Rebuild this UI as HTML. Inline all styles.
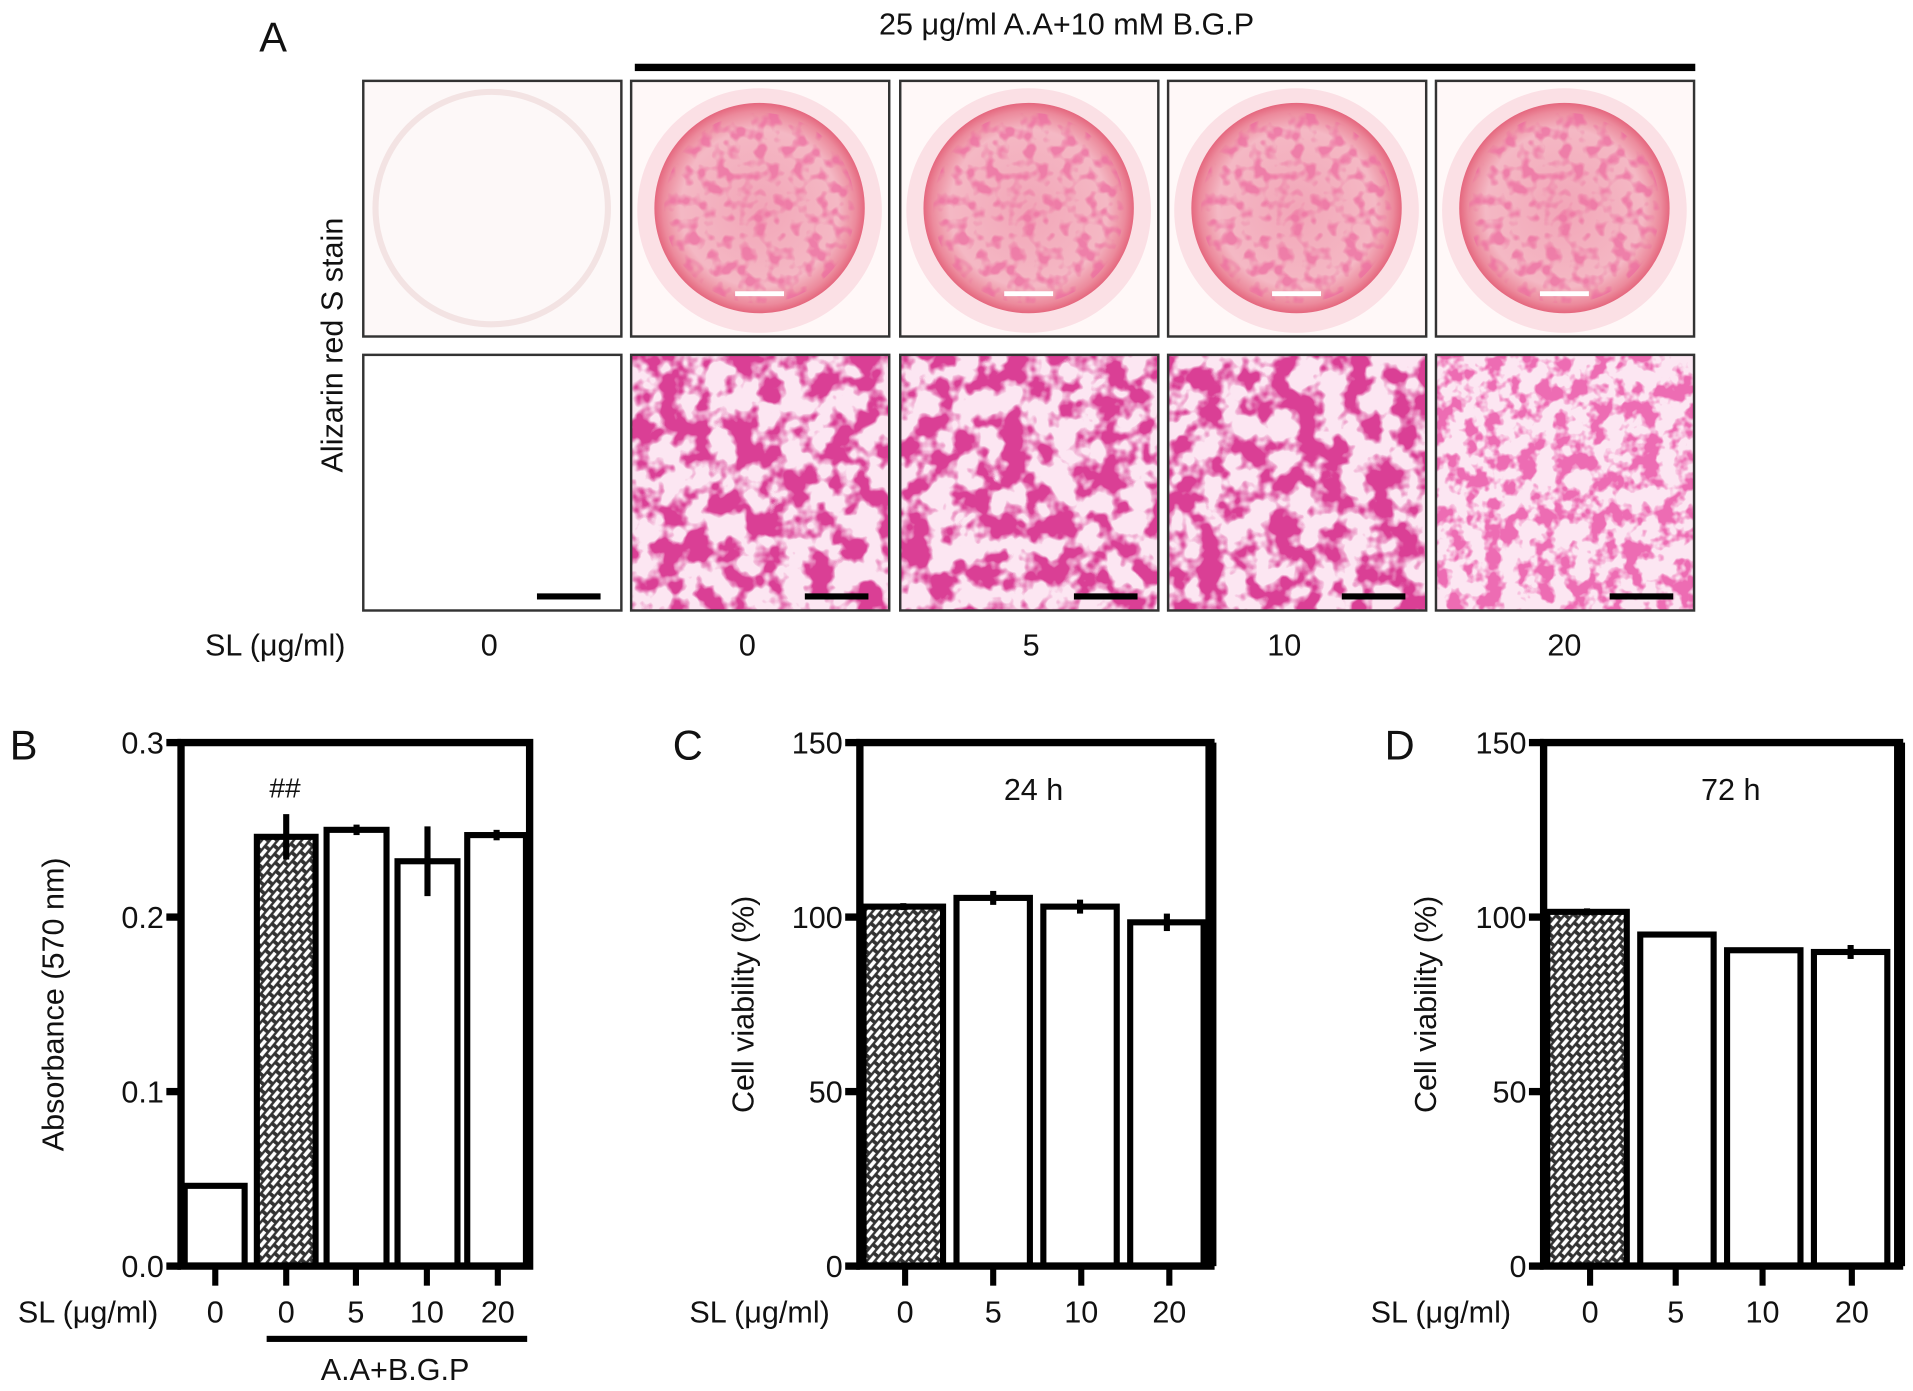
<!DOCTYPE html>
<html><head><meta charset="utf-8"><style>
html,body{margin:0;padding:0;background:#fff}
svg{display:block}
text{font-family:"Liberation Sans",sans-serif;fill:#111}
</style></head><body>
<svg id="fig" width="1913" height="1391" viewBox="0 0 1564 1137" xmlns="http://www.w3.org/2000/svg">
<defs>
<pattern id="hatch" width="10" height="10" patternUnits="userSpaceOnUse" patternTransform="rotate(-50)">
<rect width="10" height="10" fill="#333"/>
<rect x="1" y="1.5" width="7" height="3" fill="#fff"/>
<rect x="6" y="6.5" width="7" height="3" fill="#fff"/>
<rect x="-4" y="6.5" width="7" height="3" fill="#fff"/>
</pattern>
<filter id="cells" x="0" y="0" width="100%" height="100%">
<feTurbulence type="fractalNoise" baseFrequency="0.05" numOctaves="3" seed="4"/>
<feColorMatrix type="matrix" values="0 0 0 0 0.70  0 0 0 0 0.05  0 0 0 0 0.30  6 0 0 0 -2.6"/>
</filter>
<filter id="cells2" x="0" y="0" width="100%" height="100%">
<feTurbulence type="fractalNoise" baseFrequency="0.07" numOctaves="3" seed="9"/>
<feColorMatrix type="matrix" values="0 0 0 0 0.85  0 0 0 0 0.15  0 0 0 0 0.45  6 0 0 0 -2.7"/>
</filter>
<filter id="wellTex" x="0" y="0" width="100%" height="100%">
<feTurbulence type="fractalNoise" baseFrequency="0.09" numOctaves="2" seed="2"/>
<feColorMatrix type="matrix" values="0 0 0 0 0.85  0 0 0 0 0.15  0 0 0 0 0.35  5 0 0 0 -2.4"/>
</filter>
<radialGradient id="well" cx="50%" cy="50%" r="50%">
<stop offset="0" stop-color="#f2a6b8"/><stop offset="0.75" stop-color="#f4b8c4"/><stop offset="0.92" stop-color="#ec8a9c"/><stop offset="1" stop-color="#e5677e"/>
</radialGradient>
<clipPath id="wc"><circle cx="105" cy="100" r="78"/></clipPath>
</defs>
<g id="panelA"></g>
<g id="panelB"></g>
<g id="panelC"></g>
<g id="panelD"></g>
</svg>
<script>
const NS="http://www.w3.org/2000/svg";
// Panel B data
const bCats=["0","0","5","10","20"];
const bVals=[0.046,0.246,0.250,0.232,0.247];
const bErr=[0.0,0.013,0.003,0.020,0.003];
const bTicks=[0.0,0.1,0.2,0.3];
const bTickLabels=["0.0","0.1","0.2","0.3"];
// Panel C data
const cCats=["0","5","10","20"];
const cVals=[103,105.5,103,98.5];
const cErr=[1,2,2,2.5];
// Panel D data
const dCats=["0","5","10","20"];
const dVals=[101.5,95,90.5,90];
const dErr=[1,0.5,0.5,2];
const vTicks=[0,50,100,150];
const vTickLabels=["0","50","100","150"];
// Panel A labels
const aLabels=["0","0","5","10","20"];

function el(parent,tag,attrs,txt){const e=document.createElementNS(NS,tag);for(const k in attrs)e.setAttribute(k,attrs[k]);if(txt!==undefined)e.textContent=txt;parent.appendChild(e);return e;}

// ---- Panel A
const A=document.getElementById('panelA');
let t=el(A,'text',{x:212,y:42,'font-size':34});
t.textContent='A';
t=el(A,'text',{x:872,y:28,'font-size':25,'text-anchor':'middle'});
t.textContent='25 μg/ml A.A+10 mM B.G.P';
let r=el(A,'rect',{x:519,y:52,width:867,height:6,fill:'#000'});

t=el(A,'text',{x:0,y:0,'font-size':25,'text-anchor':'middle',transform:'translate(280,282) rotate(-90)'});
t.textContent='Alizarin red S stain';
const boxX=[297,516,736,955,1174];
for(let i=0;i<5;i++){
  const x=boxX[i];
  const g1=el(A,'g',{});
  
  el(g1,'rect',{x:x,y:66,width:211,height:209,fill:i==0?'#fdf8f8':'#fff8f8'});
  if(i==0){el(g1,'circle',{cx:x+105,cy:170,r:95,fill:'none',stroke:'#f3e3e3','stroke-width':5});}
  else{
    el(g1,'circle',{cx:x+105,cy:172,r:100,fill:'#fbe0e5'});
    el(g1,'circle',{cx:x+105,cy:170,r:86,fill:'url(#well)'});
    const gg=el(g1,'g',{transform:`translate(${x},70)`,'clip-path':'url(#wc)'});
    el(gg,'rect',{x:20,y:15,width:170,height:170,filter:'url(#wellTex)',opacity:0.75});
    el(g1,'rect',{x:x+85,y:238,width:40,height:4,fill:'#fff'});
  }
  el(g1,'rect',{x:x,y:66,width:211,height:209,fill:'none',stroke:'#333','stroke-width':2});
  const g2=el(A,'g',{});
  
  el(g2,'rect',{x:x,y:290,width:211,height:209,fill:i==0?'#fff':'#fce6f2'});
  if(i>0) el(g2,'rect',{x:x+1,y:291,width:209,height:207,filter:i==4?'url(#cells2)':'url(#cells)'});
  el(g2,'rect',{x:x+142,y:485,width:52,height:5,fill:'#000'});
  el(g2,'rect',{x:x,y:290,width:211,height:209,fill:'none',stroke:'#333','stroke-width':2});
  t=el(A,'text',{x:x+(i==0?103:i==1?95:i==2?107:i==3?95:105),y:536,'font-size':25,'text-anchor':'middle'});
  t.textContent=aLabels[i];
}
t=el(A,'text',{x:225,y:536,'font-size':25,'text-anchor':'middle'});
t.textContent='SL (μg/ml)';

// ---- bar chart builder
function chart(gid,opt){
  const G=document.getElementById(gid);
  const {left,right,top,bottom,ymax,ticks,tickLabels,cats,vals,errs,barX,barW,tickX,letter,letterX,ytitle,ytitleX}=opt;
  const yS=v=>bottom-(v/ymax)*(bottom-top);
  let e=el(G,'text',{x:letterX,y:top+14,'font-size':34});
  e.textContent=letter;
  e=el(G,'text',{x:0,y:0,'font-size':25,'text-anchor':'middle',transform:`translate(${ytitleX},${(top+bottom)/2}) rotate(-90)`});
  e.textContent=ytitle;
  for(let i=0;i<vals.length;i++){
    const y=yS(vals[i]);
    const b=el(G,'rect',{x:barX[i],y:y,width:barW[i],height:bottom-y,fill:opt.hatch[i]?'url(#hatch)':'#fff',stroke:'#000','stroke-width':5});
    
    if(errs[i]>0){
      const cx=barX[i]+barW[i]/2;
      const eb=el(G,'line',{x1:cx,x2:cx,y1:yS(vals[i]+errs[i]),y2:yS(vals[i]-errs[i]),stroke:'#000','stroke-width':5});
      
    }
  }
  const f=el(G,'path',{d:`M${left},${bottom} L${left},${top} L${right},${top} L${right},${bottom} Z`,fill:'none',stroke:'#000','stroke-width':6});
  
  if(opt.thickRight){el(G,'line',{x1:right,x2:right,y1:top,y2:bottom,stroke:'#000','stroke-width':9});}
  for(let i=0;i<ticks.length;i++){
    const y=yS(ticks[i]);
    el(G,'line',{x1:left-12,x2:left,y1:y,y2:y,stroke:'#000','stroke-width':6});
    e=el(G,'text',{x:left-14,y:y+9,'font-size':25,'text-anchor':'end'});
    e.textContent=tickLabels[i];
  }
  for(let i=0;i<cats.length;i++){
    el(G,'line',{x1:tickX[i],x2:tickX[i],y1:bottom,y2:bottom+16,stroke:'#000','stroke-width':5});
    e=el(G,'text',{x:tickX[i],y:bottom+46,'font-size':25,'text-anchor':'middle'});
    e.textContent=cats[i];
  }
  e=el(G,'text',{x:opt.slX,y:bottom+46,'font-size':25,'text-anchor':'middle'});
  e.textContent='SL (μg/ml)';
  return {G,yS};
}

const B=chart('panelB',{left:148,right:433,top:607,bottom:1035,ymax:0.3,ticks:bTicks,tickLabels:bTickLabels,cats:bCats,vals:bVals,errs:bErr,
  barX:[151,210,267,325,382],barW:[49,48,49,49,48],tickX:[176,234,291,349,407],hatch:[0,1,0,0,0],letter:'B',letterX:8,ytitle:'Absorbance (570 nm)',ytitleX:52,slX:72});
let s=el(B.G,'text',{x:233,y:652,'font-size':23,'text-anchor':'middle'});
s.textContent='##';
s=el(B.G,'rect',{x:218,y:1092,width:213,height:5,fill:'#000'});

s=el(B.G,'text',{x:323,y:1128,'font-size':25,'text-anchor':'middle'});
s.textContent='A.A+B.G.P';

const C=chart('panelC',{left:703,right:990,top:607,bottom:1035,ymax:150,ticks:vTicks,tickLabels:vTickLabels,cats:cCats,vals:cVals,errs:cErr,
  barX:[706,782,853,924],barW:[65,60,60,60],tickX:[740,812,884,956],hatch:[1,0,0,0],letter:'C',letterX:550,ytitle:'Cell viability (%)',ytitleX:616,slX:621,thickRight:true});
s=el(C.G,'text',{x:845,y:654,'font-size':25,'text-anchor':'middle'});
s.textContent='24 h';

const D=chart('panelD',{left:1262,right:1553,top:607,bottom:1035,ymax:150,ticks:vTicks,tickLabels:vTickLabels,cats:dCats,vals:dVals,errs:dErr,
  barX:[1265,1341,1412,1483],barW:[65,60,60,60],tickX:[1300,1370,1441,1514],hatch:[1,0,0,0],letter:'D',letterX:1132,ytitle:'Cell viability (%)',ytitleX:1174,slX:1178,thickRight:true});
s=el(D.G,'text',{x:1415,y:654,'font-size':25,'text-anchor':'middle'});
s.textContent='72 h';
</script>
</body></html>
